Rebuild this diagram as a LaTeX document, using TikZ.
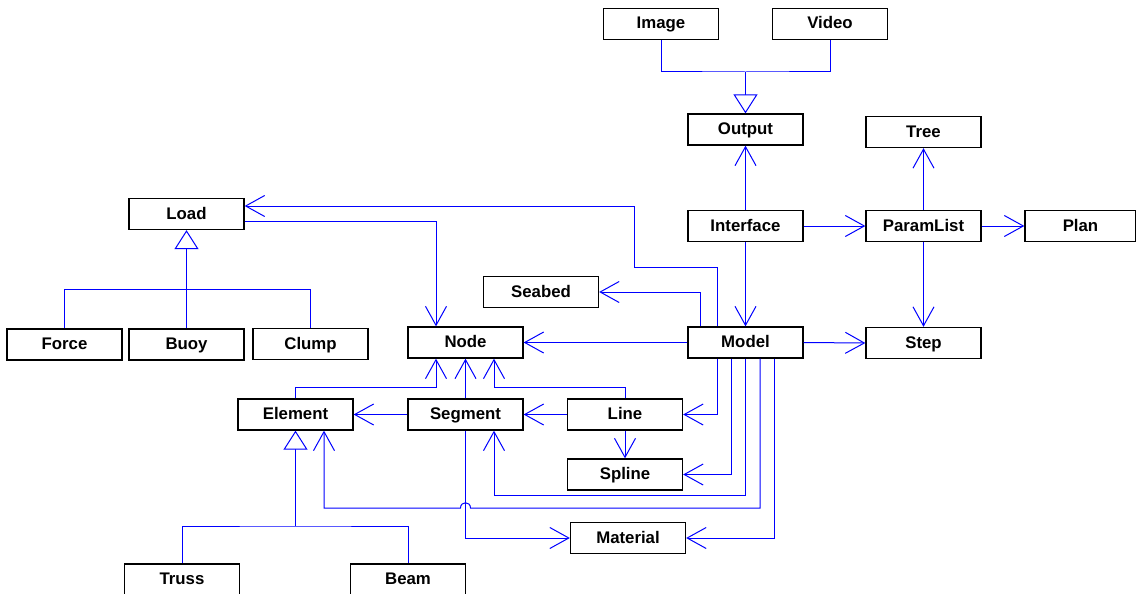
\documentclass[tikz,border=0pt]{standalone}
\usepackage{fontspec}
\setmainfont{Liberation Sans}
\usetikzlibrary{arrows.meta}
\begin{document}
\begin{tikzpicture}[x=1pt,y=-1pt,
  cls/.style={draw=black,line width=1.3pt,fill=white,minimum width=115pt,minimum height=31pt,
    inner sep=0pt,text height=12pt,text depth=2pt,font=\fontsize{16.8}{20}\selectfont\bfseries},
  link/.style={draw=blue,line width=1pt},
  assoc/.style={link,-{Straight Barb[length=19pt,width=21pt,line width=1pt]}},
  gen/.style={link,-{Triangle[open,length=19pt,width=24pt,line width=1pt,fill=white]}}]
\useasboundingbox (0,0) rectangle (1136,594);

% classes
\node[cls] (Image)     at (661,24)     {Image};
\node[cls] (Video)     at (830,24)     {Video};
\node[cls] (Output)    at (745.5,129.5){Output};
\node[cls] (Tree)      at (923.5,132)  {Tree};
\node[cls] (ParamList) at (923.5,226)  {ParamList};
\node[cls,minimum width=111pt] (Plan) at (1080.5,226) {Plan};
\node[cls] (Step)      at (923.5,343)  {Step};
\node[cls] (Interface) at (745.5,226)  {Interface};
\node[cls] (Model)     at (745.5,342.5){Model};
\node[cls] (Seabed)    at (541,292)    {Seabed};
\node[cls] (Load)      at (186.5,214)  {Load};
\node[cls] (Force)     at (64.5,344.5) {Force};
\node[cls] (Buoy)      at (186.5,344.5){Buoy};
\node[cls] (Clump)     at (310.5,344)  {Clump};
\node[cls] (Node)      at (465.5,342.5){Node};
\node[cls] (Element)   at (295.5,414.5){Element};
\node[cls] (Segment)   at (465.5,414.5){Segment};
\node[cls] (Line)      at (625,414.5)  {Line};
\node[cls] (Spline)    at (625,474.5)  {Spline};
\node[cls] (Material)  at (628,538)    {Material};
\node[cls] (Truss)     at (182,579.5)  {Truss};
\node[cls] (Beam)      at (408,579.5)  {Beam};

% inheritance
\coordinate (jo) at (745.5,72);
\draw[link] (Image.south) |- (jo) -| (Video.south);
\draw[gen] (jo) -- (Output.north);
\coordinate (jl) at (186.5,289.5);
\draw[link] (Force.north) |- (jl) -| (Clump.north);
\draw[gen] (Buoy.north) -- (Load.south);
\coordinate (je) at (295.5,526);
\draw[link] (Truss.north) |- (je) -| (Beam.north);
\draw[gen] (je) -- (Element.south);

% associations
\draw[assoc] (Interface.north) -- (Output.south);
\draw[assoc] (Interface.east) -- (ParamList.west);
\draw[assoc] (Interface.south) -- (Model.north);
\draw[assoc] (ParamList.north) -- (Tree.south);
\draw[assoc] (ParamList.east) -- (Plan.west);
\draw[assoc] (ParamList.south) -- (Step.north);
\draw[assoc] (Model.east) -- (Step.west);
\draw[assoc] (Model.west) -- (Node.east);
\draw[assoc] ([xshift=-45.5pt]Model.north) |- (Seabed.east);
\draw[assoc] ([xshift=-28.5pt]Model.north) |- (634,267) |- ([yshift=8pt]Load.east);
\draw[assoc] ([yshift=-7pt]Load.east) -| ([xshift=-29.5pt]Node.north);
\draw[assoc] (Element.north) |- (436,387) -| ([xshift=-29.5pt]Node.south);
\draw[assoc] (Segment.north) -- (Node.south);
\draw[assoc] (Line.north) |- (494,387) -| ([xshift=28.5pt]Node.south);
\draw[assoc] (Segment.west) -- (Element.east);
\draw[assoc] (Line.west) -- (Segment.east);
\draw[assoc] (Line.south) -- (Spline.north);
\draw[assoc] ([xshift=-28.5pt]Model.south) |- (Line.east);
\draw[assoc] ([xshift=-14.5pt]Model.south) |- (Spline.east);
\draw[assoc] (Model.south) |- (494,495) -| ([xshift=28.5pt]Segment.south);
\draw[assoc] ([xshift=14.5pt]Model.south) |- (470.5,508)
   .. controls (470.5,501) and (460.5,501) .. (460.5,508)
   -| ([xshift=28.5pt]Element.south);
\draw[assoc] ([xshift=28.5pt]Model.south) |- (Material.east);
\draw[assoc] (Segment.south) |- (Material.west);
\end{tikzpicture}
\end{document}
